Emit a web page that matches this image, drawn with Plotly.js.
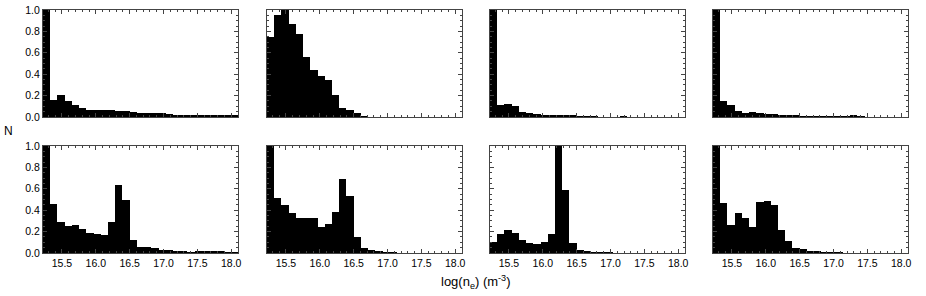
<!DOCTYPE html>
<html>
<head>
<meta charset="utf-8">
<script src="https://cdn.plot.ly/plotly-3.0.1.min.js"></script>
<style>html,body{margin:0;padding:0;background:#fff;}#chart{width:926px;height:296px;}</style>
</head>
<body>
<div id="chart"></div>
<script>
// Histogram bins: log(n_e) from binStart, 27 equal bins
const binStart = 15.22;
const binEnd = 18.10;
const nBins = 27;

// Normalised counts (N) per bin
const panelTop1 = [1.0, 0.16, 0.21, 0.15, 0.11, 0.08, 0.07, 0.07, 0.07, 0.065, 0.055, 0.055, 0.045, 0.04, 0.04, 0.035, 0.035, 0.03, 0.015, 0.015, 0.015, 0.015, 0.015, 0.015, 0.015, 0.015, 0.015];
const panelTop2 = [0.75, 0.95, 1.0, 0.865, 0.776, 0.559, 0.441, 0.379, 0.342, 0.208, 0.081, 0.068, 0.037, 0.012, 0.004, 0, 0, 0, 0, 0, 0, 0, 0, 0, 0, 0, 0];
const panelTop3 = [1.0, 0.11, 0.12, 0.10, 0.05, 0.04, 0.03, 0.02, 0.02, 0.02, 0.015, 0.015, 0.012, 0.012, 0.012, 0.004, 0.004, 0.004, 0.006, 0.004, 0.004, 0.004, 0.004, 0.004, 0.004, 0.004, 0.004];
const panelTop4 = [1.0, 0.15, 0.11, 0.055, 0.037, 0.045, 0.035, 0.028, 0.028, 0.022, 0.02, 0.015, 0.012, 0.012, 0.01, 0.01, 0.01, 0.008, 0.008, 0.015, 0.006, 0.004, 0.004, 0.004, 0.004, 0.004, 0.004];
const panelBot1 = [1.0, 0.456, 0.29, 0.255, 0.264, 0.227, 0.183, 0.174, 0.165, 0.29, 0.637, 0.494, 0.124, 0.056, 0.056, 0.043, 0.031, 0.031, 0.016, 0.016, 0.012, 0.019, 0.022, 0.022, 0.015, 0.01, 0.01];
const panelBot2 = [1.0, 0.51, 0.447, 0.373, 0.326, 0.326, 0.326, 0.245, 0.27, 0.379, 0.69, 0.534, 0.146, 0.047, 0.028, 0.02, 0.012, 0.006, 0.003, 0, 0, 0, 0, 0, 0, 0, 0];
const panelBot3 = [0.105, 0.174, 0.214, 0.186, 0.118, 0.093, 0.087, 0.105, 0.174, 1.0, 0.593, 0.093, 0.028, 0.022, 0.012, 0.009, 0.009, 0.004, 0.003, 0.002, 0.002, 0.002, 0.002, 0.002, 0.002, 0.002, 0.002];
const panelBot4 = [1.0, 0.463, 0.264, 0.373, 0.323, 0.239, 0.475, 0.484, 0.447, 0.214, 0.109, 0.047, 0.034, 0.022, 0.016, 0.012, 0.009, 0.006, 0.003, 0.003, 0.003, 0.003, 0.003, 0.003, 0.003, 0.003, 0.003];

const xTickVals = [15.5, 16.0, 16.5, 17.0, 17.5, 18.0];
const yTickVals = [0.0, 0.2, 0.4, 0.6, 0.8, 1.0];
const xTitle = 'log(n<sub>e</sub>) (m<sup>-3</sup>)';
const yTitle = 'N';

const panels = [panelTop1, panelTop2, panelTop3, panelTop4, panelBot1, panelBot2, panelBot3, panelBot4];

const binWidth = (binEnd - binStart) / nBins;
const centers = [];
for (let i = 0; i < nBins; i++) centers.push(binStart + (i + 0.5) * binWidth);

const W = 926, H = 296;
const colLeft = [43, 267, 490, 713];
const colWidth = 195;
const rowTop = [10, 146];
const rowHeight = 107;

const fontFam = 'Liberation Sans Narrow, Liberation Sans, Arial, sans-serif';
const titleFam = 'Liberation Sans, Arial, sans-serif';
const lineCol = '#444';

const data = [];
const layout = {
  width: W, height: H,
  margin: {l: 0, r: 0, t: 0, b: 0},
  paper_bgcolor: '#fff', plot_bgcolor: '#fff',
  showlegend: false,
  bargap: 0,
  font: {family: fontFam, size: 10, color: '#000'},
  annotations: []
};

panels.forEach((vals, i) => {
  const row = Math.floor(i / 4), col = i % 4;
  const n = i + 1;
  const xa = n === 1 ? 'x' : 'x' + n;
  const ya = n === 1 ? 'y' : 'y' + n;
  data.push({
    type: 'bar', x: centers, y: vals, width: binWidth,
    marker: {color: '#000', line: {width: 0}},
    xaxis: xa, yaxis: ya, hoverinfo: 'skip'
  });
  const x0 = colLeft[col] / W, x1 = (colLeft[col] + colWidth) / W;
  const y1 = 1 - rowTop[row] / H, y0 = 1 - (rowTop[row] + rowHeight) / H;
  layout['xaxis' + (n === 1 ? '' : n)] = {
    domain: [x0, x1], anchor: ya, range: [binStart, binEnd],
    showline: true, mirror: 'ticks', linecolor: lineCol, linewidth: 1,
    ticks: 'inside', ticklen: 4, tickcolor: lineCol,
    tickvals: xTickVals, tickformat: '.1f',
    showticklabels: row === 1,
    minor: {dtick: 0.1, tick0: 15.5, ticks: 'inside', ticklen: 2, tickcolor: lineCol},
    showgrid: false, zeroline: false, fixedrange: true,
    tickfont: {family: fontFam, size: 10.5, color: '#000'}
  };
  layout['yaxis' + (n === 1 ? '' : n)] = {
    domain: [y0, y1], anchor: xa, range: [0, 1.0],
    showline: true, mirror: 'ticks', linecolor: lineCol, linewidth: 1,
    ticks: 'inside', ticklen: 4, tickcolor: lineCol,
    tickvals: yTickVals, tickformat: '.1f',
    showticklabels: col === 0,
    minor: {dtick: 0.05, tick0: 0, ticks: 'inside', ticklen: 2, tickcolor: lineCol},
    showgrid: false, zeroline: false, fixedrange: true,
    tickfont: {family: fontFam, size: 10.5, color: '#000'}
  };
});

layout.annotations.push({
  text: yTitle, xref: 'paper', yref: 'paper', x: 8.5 / W, y: 1 - 131 / H,
  xanchor: 'center', yanchor: 'middle', showarrow: false,
  font: {family: titleFam, size: 12, color: '#000'}
});
layout.annotations.push({
  text: xTitle, xref: 'paper', yref: 'paper', x: 476 / W, y: 1 - 282 / H,
  xanchor: 'center', yanchor: 'middle', showarrow: false,
  font: {family: titleFam, size: 13, color: '#000'}
});

Plotly.newPlot('chart', data, layout, {staticPlot: true, displayModeBar: false});
</script>
</body>
</html>
